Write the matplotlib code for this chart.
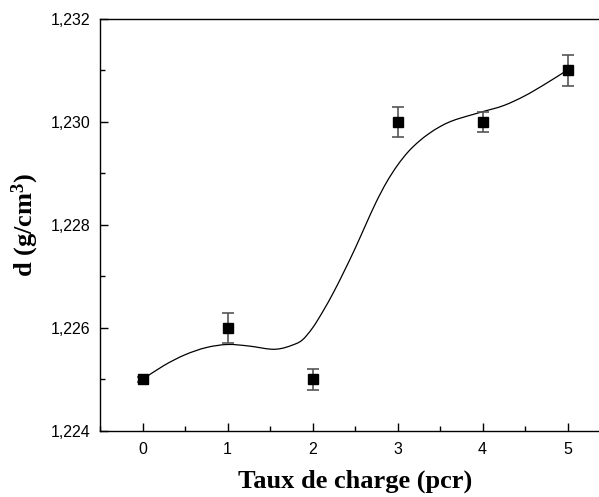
import matplotlib
matplotlib.use('Agg')
import matplotlib.pyplot as plt
from matplotlib.path import Path
from matplotlib.patches import PathPatch
from matplotlib.ticker import MultipleLocator, FixedLocator, FixedFormatter

# measured points
taux = [0, 1, 2, 3, 4, 5]
densite = [1.225, 1.226, 1.225, 1.230, 1.230, 1.231]
erreur = [0.00004, 0.0003, 0.0002, 0.0003, 0.0002, 0.0003]

# smoothed curve
curve_x = [0, 0.25, 0.5, 0.75, 1.0, 1.25, 1.5, 1.625, 1.75, 1.875, 2.0, 2.125, 2.25, 2.375,
           2.5, 2.625, 2.75, 2.875, 3.0, 3.125, 3.25, 3.375, 3.5, 3.625, 3.75, 3.875,
           4.0, 4.25, 4.5, 4.75, 5.0]
curve_y = [1.2250, 1.22527, 1.22548, 1.22562, 1.22568, 1.22565, 1.22559, 1.22560, 1.22566,
           1.22576, 1.22600, 1.22633, 1.22670, 1.22711, 1.22754, 1.22800, 1.22845, 1.22884,
           1.22916, 1.22942, 1.22962, 1.22978, 1.22991, 1.23001, 1.23008, 1.23014,
           1.23020, 1.23032, 1.23051, 1.23075, 1.23101]

y_ticks = [1.224, 1.226, 1.228, 1.230, 1.232]
y_labels = ['1,224', '1,226', '1,228', '1,230', '1,232']

plt.rcParams['font.family'] = ['Liberation Sans', 'DejaVu Sans']
plt.rcParams['mathtext.fontset'] = 'custom'
plt.rcParams['mathtext.bf'] = 'Liberation Serif:bold'
plt.rcParams['mathtext.rm'] = 'Liberation Serif:bold'
plt.rcParams['mathtext.default'] = 'bf'

fig = plt.figure(figsize=(5.99, 4.97), dpi=100)
ax = fig.add_axes([100 / 599, 66 / 497, 510 / 599, 412 / 497])

# smooth curve drawn as cubic bezier segments through the read points
verts = [(curve_x[0], curve_y[0])]
codes = [Path.MOVETO]
n = len(curve_x)
for i in range(n - 1):
    p0 = (curve_x[max(i - 1, 0)], curve_y[max(i - 1, 0)])
    p1 = (curve_x[i], curve_y[i])
    p2 = (curve_x[i + 1], curve_y[i + 1])
    p3 = (curve_x[min(i + 2, n - 1)], curve_y[min(i + 2, n - 1)])
    c1 = (p1[0] + (p2[0] - p0[0]) / 6, p1[1] + (p2[1] - p0[1]) / 6)
    c2 = (p2[0] - (p3[0] - p1[0]) / 6, p2[1] - (p3[1] - p1[1]) / 6)
    verts += [c1, c2, p2]
    codes += [Path.CURVE4] * 3
ax.add_patch(PathPatch(Path(verts, codes), facecolor='none', edgecolor='black', linewidth=0.9))

ax.errorbar(taux, densite, yerr=erreur, fmt='none', ecolor='#555555',
            elinewidth=1.2, capsize=4, capthick=1.2)
ax.plot(taux, densite, linestyle='none', marker='s', markersize=6.5, color='black')

ax.set_xlim(-0.5, 5.5)
ax.set_ylim(1.224, 1.232)
ax.xaxis.set_major_locator(MultipleLocator(1))
ax.xaxis.set_minor_locator(MultipleLocator(0.5))
ax.yaxis.set_major_locator(FixedLocator(y_ticks))
ax.yaxis.set_major_formatter(FixedFormatter(y_labels))
ax.yaxis.set_minor_locator(MultipleLocator(0.001))

ax.tick_params(which='major', direction='in', length=6, width=1, labelsize=11.5, pad=7)
ax.tick_params(axis='x', which='major', pad=8)
ax.tick_params(which='minor', direction='in', length=3.5, width=1)
ax.tick_params(top=False, right=False, which='both')
for s in ax.spines.values():
    s.set_linewidth(1.0)

ax.set_xlabel('Taux de charge (pcr)', family='Liberation Serif', fontweight='bold',
              fontsize=19, labelpad=9)
ax.set_ylabel(r'd (g/cm$^{3}$)', family='Liberation Serif', fontweight='bold',
              fontsize=19, labelpad=7)

fig.savefig('out.png', dpi=100)
